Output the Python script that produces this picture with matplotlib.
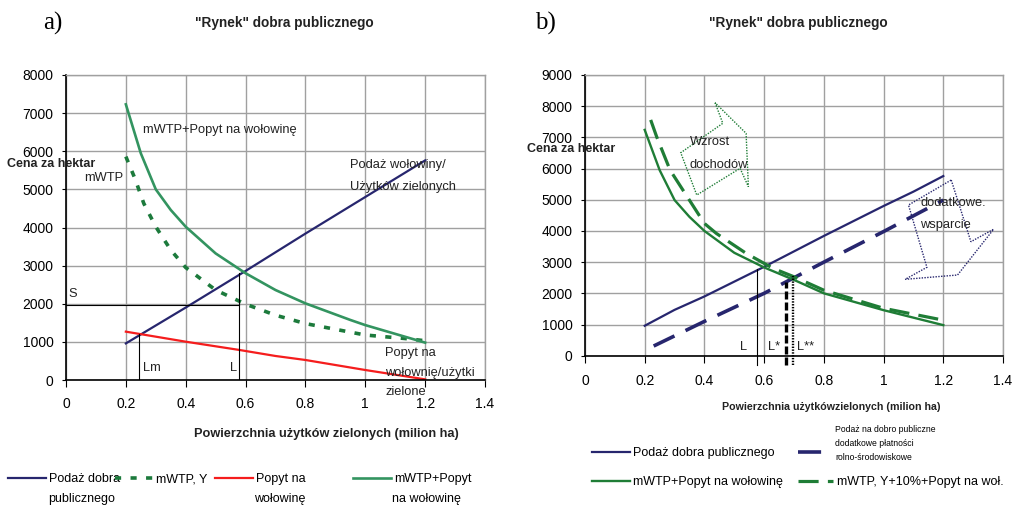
import matplotlib
matplotlib.use("Agg")
import matplotlib.pyplot as plt
from matplotlib.patches import Polygon

plt.rcParams['font.family'] = ['Liberation Sans', 'DejaVu Sans']

W, H = 1013, 507

# ---------------- data: panel a ----------------
x_ticks = [0, 0.2, 0.4, 0.6, 0.8, 1.0, 1.2, 1.4]
x_tick_labels = ["0", "0.2", "0.4", "0.6", "0.8", "1", "1.2", "1.4"]
a_y_ticks = [0, 1000, 2000, 3000, 4000, 5000, 6000, 7000, 8000]
b_y_ticks = [0, 1000, 2000, 3000, 4000, 5000, 6000, 7000, 8000, 9000]

a_supply_x = [0.2, 0.4, 0.6, 0.8, 1.0, 1.2]
a_supply_y = [960, 1900, 2860, 3840, 4800, 5760]

a_mwtp_popyt_x = [0.2, 0.25, 0.3, 0.35, 0.4, 0.5, 0.6, 0.7, 0.8, 0.95, 1.0, 1.2]
a_mwtp_popyt_y = [7230, 5945, 5000, 4460, 4020, 3320, 2800, 2360, 2010, 1575, 1440, 980]

a_mwtp_x = [0.2, 0.23, 0.26, 0.3, 0.35, 0.4, 0.5, 0.6, 0.7, 0.8, 0.9, 1.0, 1.13, 1.2]
a_mwtp_y = [5860, 5290, 4630, 4020, 3410, 2950, 2360, 1990, 1700, 1480, 1330, 1180, 1090, 1030]

a_demand_x = [0.2, 0.4, 0.58, 0.7, 0.8, 1.0, 1.2]
a_demand_y = [1268, 1005, 787, 630, 525, 262, 17]

a_L, a_Lm, a_S = 0.578, 0.245, 1960
a_L_top, a_Lm_top = 2800, 1200

# ---------------- data: panel b ----------------
b_supply_x = [0.2, 0.3, 0.4, 0.6, 0.8, 1.0, 1.1, 1.2]
b_supply_y = [960, 1470, 1900, 2850, 3840, 4800, 5260, 5760]

b_supply2_x = [0.23, 0.4, 0.6, 0.8, 1.0, 1.2]
b_supply2_y = [310, 1100, 2000, 3000, 3980, 4990]

b_green_x = [0.2, 0.25, 0.3, 0.35, 0.4, 0.5, 0.6, 0.7, 0.8, 1.0, 1.2]
b_green_y = [7240, 5950, 4990, 4450, 4000, 3300, 2830, 2430, 2000, 1460, 980]

b_green2_x = [0.22, 0.24, 0.285, 0.4, 0.44, 0.54, 0.63, 0.7, 0.8, 1.0, 1.2]
b_green2_y = [7560, 7020, 5950, 4240, 3920, 3280, 2800, 2530, 2100, 1520, 1140]

b_L, b_Ls, b_Lss = 0.577, 0.674, 0.698
b_L_top, b_Ls_top, b_Lss_top = 2780, 2370, 2560
b_vbottom = -300

arrow_green_x = [0.4357, 0.4615, 0.3207, 0.3743, 0.5194, 0.5473, 0.5395]
arrow_green_y = [8111, 7451, 6508, 5152, 6008, 5418, 7130]
arrow_blue_x = [1.2266, 1.2925, 1.3683, 1.2477, 1.0724, 1.1451, 1.0835]
arrow_blue_y = [5633, 3655, 4052, 2587, 2449, 2834, 4831]

NAVY = '#27266e'
GREEN_A = '#339460'
GREEN_DOT = '#1c7a3c'
GREEN_B = '#1f7d36'
RED = '#f51d1d'
GRID = '#a0a0a0'

fig = plt.figure(figsize=(W / 100, H / 100), dpi=100)


def fx(px):
    return px / W


def fy(py):
    return 1 - py / H


def style_axes(ax, yticks, ymax, xpad):
    ax.set_xlim(0, 1.4)
    ax.set_ylim(0, ymax)
    ax.set_xticks(x_ticks)
    ax.set_xticklabels(x_tick_labels)
    ax.set_yticks(yticks)
    ax.grid(True, color=GRID, linewidth=1.0)
    ax.set_axisbelow(True)
    for s in ['top', 'right']:
        ax.spines[s].set_color(GRID)
        ax.spines[s].set_linewidth(1.0)
    for s in ['left', 'bottom']:
        ax.spines[s].set_color('black')
        ax.spines[s].set_linewidth(1.2)
    ax.tick_params(axis='x', length=5, pad=xpad, labelsize=10, direction='out')
    ax.tick_params(axis='y', length=3, pad=6, labelsize=10, direction='out')


# ---------------- panel a ----------------
axa = fig.add_axes([fx(66), fy(380), fx(485) - fx(66), fy(75) - fy(380)])
style_axes(axa, a_y_ticks, 8000, 7)
la1, = axa.plot(a_supply_x, a_supply_y, color=NAVY, lw=1.6)
la2, = axa.plot(a_mwtp_x, a_mwtp_y, color=GREEN_DOT, lw=2.6, dashes=(1.7, 2.6))
la3, = axa.plot(a_demand_x, a_demand_y, color=RED, lw=1.6)
la4, = axa.plot(a_mwtp_popyt_x, a_mwtp_popyt_y, color=GREEN_A, lw=1.9)
axa.plot([0, a_L], [a_S, a_S], color='black', lw=0.8)
axa.plot([a_L, a_L], [0, a_L_top], color='black', lw=0.8)
axa.plot([a_Lm, a_Lm], [0, a_Lm_top], color='black', lw=0.8)

tk = dict(fontsize=9.3, color='#222222')
axa.text(0.258, 6557, "mWTP+Popyt na wołowinę", va='center', ha='left', **tk)
axa.text(0.19, 5290, "mWTP", va='center', ha='right', **tk)
axa.text(0.949, 5639, "Podaż wołowiny/", va='center', ha='left', **tk)
axa.text(0.949, 5071, "Użytków zielonych", va='center', ha='left', **tk)
axa.text(1.066, 717, "Popyt na", va='center', ha='left', **tk)
axa.text(1.066, 192, "wołownię/użytki", va='center', ha='left', **tk)
axa.text(1.066, -306, "zielone", va='center', ha='left', clip_on=False, **tk)
axa.text(0.008, 2247, "S", va='center', ha='left', **tk)
axa.text(0.258, 306, "Lm", va='center', ha='left', **tk)
axa.text(0.548, 306, "L", va='center', ha='left', **tk)

# ---------------- panel b ----------------
axb = fig.add_axes([fx(585), fy(355.7), fx(1003) - fx(585), fy(75) - fy(355.7)])
style_axes(axb, b_y_ticks, 9000, 8)
lb1, = axb.plot(b_supply_x, b_supply_y, color=NAVY, lw=1.6)
lb2, = axb.plot(b_supply2_x, b_supply2_y, color=NAVY, lw=2.6, dashes=(6.4, 3.4))
lb3, = axb.plot(b_green_x, b_green_y, color=GREEN_B, lw=1.7)
lb4, = axb.plot(b_green2_x, b_green2_y, color=GREEN_B, lw=2.3, dashes=(6.3, 2.9))
axb.plot([b_L, b_L], [b_vbottom, b_L_top], color='black', lw=0.8, clip_on=False)
axb.plot([b_Ls, b_Ls], [b_vbottom, b_Ls_top], color='black', lw=2.4,
         dashes=(2.4, 0.9), clip_on=False)
axb.plot([b_Lss, b_Lss], [b_vbottom, b_Lss_top], color='black', lw=1.7,
         dashes=(0.6, 0.6), clip_on=False)

axb.add_patch(Polygon(list(zip(arrow_green_x, arrow_green_y)), closed=True, fill=False,
                      edgecolor=GREEN_B, lw=1.0, linestyle=(0, (1, 1)), clip_on=False))
axb.add_patch(Polygon(list(zip(arrow_blue_x, arrow_blue_y)), closed=True, fill=False,
                      edgecolor=NAVY, lw=1.0, linestyle=(0, (1, 1)), clip_on=False))
axb.text(0.35, 6860, "Wzrost", va='center', ha='left', **tk)
axb.text(0.35, 6120, "dochodów", va='center', ha='left', **tk)
axb.text(1.123, 4890, "dodatkowe.", va='center', ha='left', **tk)
axb.text(1.123, 4190, "wsparcie", va='center', ha='left', **tk)
axb.text(0.52, 290, "L", va='center', ha='left', **tk)
axb.text(0.614, 290, "L*", va='center', ha='left', **tk)
axb.text(0.709, 290, "L**", va='center', ha='left', **tk)

# ---------------- figure texts ----------------
bold = dict(fontweight='bold', color='#222222')
fig.text(fx(43), fy(23), "a)", family=['Liberation Serif'], fontsize=18, va='center', ha='left')
fig.text(fx(535), fy(23), "b)", family=['Liberation Serif'], fontsize=18, va='center', ha='left')
fig.text(fx(284), fy(23), '"Rynek" dobra publicznego', fontsize=9.8, va='center', ha='center', **bold)
fig.text(fx(798), fy(23), '"Rynek" dobra publicznego', fontsize=9.8, va='center', ha='center', **bold)
fig.text(fx(7), fy(164), "Cena za hektar", fontsize=9, va='center', ha='left', **bold)
fig.text(fx(527), fy(149), "Cena za hektar", fontsize=9, va='center', ha='left', **bold)
fig.text(fx(326), fy(434), "Powierzchnia użytków zielonych (milion ha)", fontsize=9.2,
         va='center', ha='center', **bold)
fig.text(fx(831), fy(407), "Powierzchnia użytkówzielonych (milion ha)", fontsize=7.7,
         va='center', ha='center', **bold)

# ---------------- legends ----------------
def leg(handle, label, x0, y0, fs, hl):
    fig.legend(handles=[handle], labels=[label], loc='center left',
               bbox_to_anchor=(fx(x0), fy(y0)), frameon=False, fontsize=fs,
               handlelength=hl, handletextpad=0.3, borderpad=0, borderaxespad=0)


LFS = 9
leg(la1, "Podaż dobra", 8, 479, LFS, 3.0)
fig.text(fx(48), fy(499), "publicznego", fontsize=LFS, va='center', ha='left')
leg(la2, "mWTP, Y", 115, 479, LFS, 3.0)
leg(la3, "Popyt na", 215, 479, LFS, 3.0)
fig.text(fx(254), fy(499), "wołowinę", fontsize=LFS, va='center', ha='left')
leg(la4, "mWTP+Popyt", 353, 479, LFS, 3.0)
fig.text(fx(392), fy(499), "na wołowinę", fontsize=LFS, va='center', ha='left')

leg(lb1, "Podaż dobra publicznego", 592, 453, LFS, 3.0)
leg(lb3, "mWTP+Popyt na wołowinę", 592, 482, LFS, 3.0)
leg(lb2, "", 798, 453, LFS, 2.8)
leg(lb4, "mWTP, Y+10%+Popyt na woł.", 798, 482, LFS, 2.8)
fig.text(fx(835), fy(430), "Podaż na dobro publiczne", fontsize=6.2, va='center', ha='left')
fig.text(fx(835), fy(444), "dodatkowe płatności", fontsize=6.2, va='center', ha='left')
fig.text(fx(835), fy(457), "rolno-środowiskowe", fontsize=6.2, va='center', ha='left')

fig.savefig("out.png", dpi=100)
